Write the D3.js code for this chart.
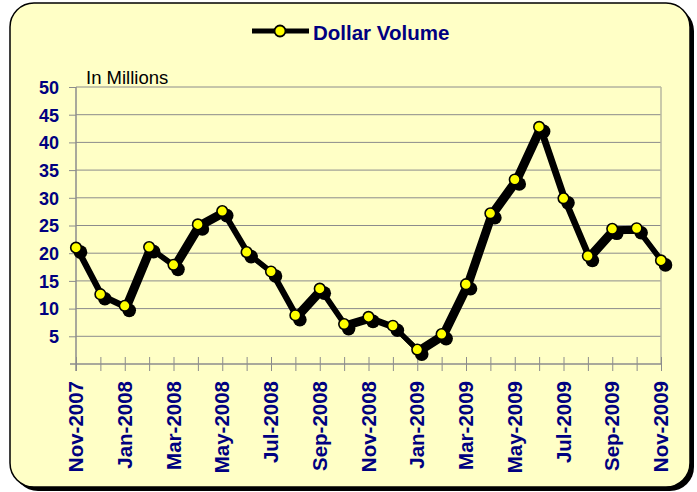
<!DOCTYPE html>
<html>
<head>
<meta charset="utf-8">
<script src="https://cdn.jsdelivr.net/npm/d3@7"></script>
<style>
  html, body { margin: 0; padding: 0; background: #ffffff; }
  svg { display: block; }
  text { font-family: "Liberation Sans", Arial, sans-serif; }
</style>
</head>
<body>
<svg id="chart" width="697" height="492"></svg>
<script>
const months = ["Nov-2007","Dec-2007","Jan-2008","Feb-2008","Mar-2008","Apr-2008","May-2008","Jun-2008","Jul-2008","Aug-2008","Sep-2008","Oct-2008","Nov-2008","Dec-2008","Jan-2009","Feb-2009","Mar-2009","Apr-2009","May-2009","Jun-2009","Jul-2009","Aug-2009","Sep-2009","Oct-2009","Nov-2009"];
const dollarVolume = [21.0,12.6,10.5,21.1,17.9,25.2,27.6,20.2,16.7,8.8,13.6,7.2,8.5,6.9,2.6,5.4,14.4,27.2,33.3,42.8,29.9,19.5,24.4,24.5,18.7];
const yTicks = [5,10,15,20,25,30,35,40,45,50];
const seriesName = "Dollar Volume";
const unitLabel = "In Millions";

const navy = "#000080";
const bg = "#FFFFC6";
const gridColor = "#8C8C8C";

const svg = d3.select("#chart");

// frame with shadow
svg.append("rect").attr("x", 14).attr("y", 7).attr("width", 680).attr("height", 484)
  .attr("rx", 24).attr("fill", "#000");
svg.append("rect").attr("x", 10).attr("y", 3).attr("width", 680).attr("height", 484)
  .attr("rx", 24).attr("fill", bg).attr("stroke", "#000").attr("stroke-width", 1.5);

const pLeft = 76, pRight = 661, pTop = 87, pBottom = 364;
const x = d3.scalePoint().domain(months).range([pLeft, pRight]);
const y = d3.scaleLinear().domain([0, 50]).range([pBottom, pTop]);

// gridlines
svg.append("g").selectAll("line").data(yTicks).join("line")
  .attr("x1", pLeft).attr("x2", pRight)
  .attr("y1", d => y(d)).attr("y2", d => y(d))
  .attr("stroke", gridColor).attr("stroke-width", 1);

// plot right border
svg.append("line").attr("x1", pRight).attr("x2", pRight).attr("y1", pTop).attr("y2", pBottom)
  .attr("stroke", "#B8B8A0").attr("stroke-width", 1.5);

// y axis
const yAxis = svg.append("g").attr("transform", `translate(${pLeft},0)`)
  .call(d3.axisLeft(y).tickValues(yTicks).tickSize(7).tickPadding(10).tickFormat(d3.format("d")));
yAxis.select(".domain").remove();
yAxis.append("line").attr("x1", 0).attr("x2", 0).attr("y1", pTop).attr("y2", pBottom + 7)
  .attr("stroke", gridColor).attr("stroke-width", 1.5);
yAxis.selectAll(".tick line").attr("stroke", gridColor).attr("stroke-width", 1);
yAxis.selectAll(".tick text")
  .attr("fill", navy).attr("font-size", 18).attr("font-weight", "bold")
  .attr("font-family", "Liberation Sans, Arial, sans-serif")
  .attr("dy", "0.35em");

// x axis
const xAxis = svg.append("g").attr("transform", `translate(0,${pBottom})`)
  .call(d3.axisBottom(x).tickSize(7).tickFormat((d, i) => i % 2 === 0 ? d : ""));
xAxis.select(".domain").attr("stroke", gridColor).attr("stroke-width", 1.5)
  .attr("d", `M${pLeft - 6},0H${pRight}`);
xAxis.selectAll(".tick line").attr("y1", -7).attr("y2", 7)
  .attr("stroke", gridColor).attr("stroke-width", 1);
xAxis.selectAll(".tick text")
  .attr("fill", navy).attr("font-size", 20.5).attr("font-weight", "bold")
  .attr("font-family", "Liberation Sans, Arial, sans-serif")
  .attr("text-anchor", "end")
  .attr("transform", "translate(6.5,17) rotate(-90)")
  .attr("x", 0).attr("y", 0).attr("dy", 0);

// series
const pts = months.map((m, i) => [x(m), y(dollarVolume[i])]);
const line = d3.line();
const off = 3;
const sw = 5;

// shadow
svg.append("path").attr("d", line(pts.map(p => [p[0] + off, p[1] + off])))
  .attr("fill", "none").attr("stroke", "#000").attr("stroke-width", sw).attr("stroke-linejoin", "round");
svg.append("g").selectAll("circle").data(pts).join("circle")
  .attr("cx", d => d[0] + off + 1.5).attr("cy", d => d[1] + off + 1.5).attr("r", 6.8).attr("fill", "#000");

// main
svg.append("path").attr("d", line(pts))
  .attr("fill", "none").attr("stroke", "#000").attr("stroke-width", sw).attr("stroke-linejoin", "round");
svg.append("g").selectAll("circle").data(pts).join("circle")
  .attr("cx", d => d[0]).attr("cy", d => d[1]).attr("r", 5.3)
  .attr("fill", "#FFFF00").attr("stroke", "#000").attr("stroke-width", 1.6);

// unit label
svg.append("text").attr("x", 86).attr("y", 84).attr("font-size", 18.5)
  .attr("fill", "#000").text(unitLabel);

// legend
const lg = svg.append("g");
lg.append("line").attr("x1", 252).attr("x2", 309).attr("y1", 31).attr("y2", 31)
  .attr("stroke", "#000").attr("stroke-width", 5);
lg.append("circle").attr("cx", 280).attr("cy", 31).attr("r", 5.5)
  .attr("fill", "#FFFF00").attr("stroke", "#000").attr("stroke-width", 1.8);
lg.append("text").attr("x", 313).attr("y", 40).attr("font-size", 20.5).attr("font-weight", "bold")
  .attr("fill", navy).text(seriesName);
</script>
</body>
</html>
